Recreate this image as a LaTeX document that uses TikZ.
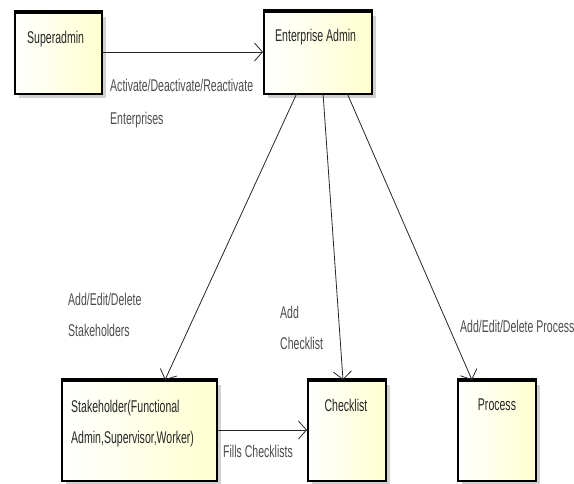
\documentclass[tikz,border=0pt]{standalone}
\usepackage{fontspec}
\setmainfont{Liberation Sans}[FakeStretch=0.62]
\usetikzlibrary{arrows.meta,shadows}
\definecolor{boxfill}{HTML}{FFFFD0}
\tikzset{
  box/.style={draw=black, line width=2pt, anchor=north west, inner sep=0pt,
    left color=white, right color=boxfill,
    drop shadow={shadow xshift=4pt, shadow yshift=-4pt, fill=black!30, opacity=0.6}},
  topbar/.style={line width=3.5pt, black},
  txt/.style={font=\fontsize{17}{19}\selectfont, text=black!85, inner sep=0pt, anchor=north west, align=left},
  conn/.style={draw=black!85, line width=0.8pt, -{Straight Barb[length=8pt,width=18pt,line width=0.8pt]}},
  lbl/.style={font=\fontsize{17}{19}\selectfont, text=black!70, inner sep=0pt, anchor=north west, align=left}
}
\begin{document}
\begin{tikzpicture}[x=1pt,y=-1pt]
\useasboundingbox (0,0) rectangle (574,483);
% boxes
\node[box, minimum width=87pt, minimum height=81pt] (sa) at (14,12) {};
\node[box, minimum width=108pt, minimum height=82pt] (ea) at (263,11) {};
\node[box, minimum width=155pt, minimum height=100pt] (sh) at (61,380) {};
\node[box, minimum width=78pt, minimum height=100pt] (cl) at (307,380) {};
\node[box, minimum width=78pt, minimum height=100pt] (pr) at (457,380) {};
\foreach \n in {sa,ea,sh,cl,pr}{\draw[topbar] (\n.north west) -- (\n.north east);}
% box texts
\node[txt] (tsa) at (27,31) {Superadmin};
\node[txt] (tea) at (275,29) {Enterprise Admin};
\node[txt, align=left] (tsh) at (71,400) {Stakeholder(Functional\\[12pt]Admin,Supervisor,Worker)};
\node[txt, anchor=north] (tcl) at (346,399) {Checklist};
\node[txt, anchor=north] (tpr) at (497,399) {Process};
% connectors
\coordinate (e1) at (297,93);
\coordinate (e2) at (323,93);
\coordinate (e3) at (347,93);
\coordinate (s1) at (165,380);
\coordinate (c1) at (343,380);
\coordinate (p1) at (472,380);
\draw[conn] (sa.east |- 0,52) -- (ea.west |- 0,52);
\draw[conn] (e1) -- (s1);
\draw[conn] (e2) -- (c1);
\draw[conn] (e3) -- (p1);
\draw[conn] (sh.east |- 0,430) -- (cl.west |- 0,430);
% labels
\node[lbl] (l1) at (110,79) {Activate/Deactivate/Reactivate\\[14pt]Enterprises};
\node[lbl] (l2) at (68,293) {Add/Edit/Delete\\[12pt]Stakeholders};
\node[lbl] (l3) at (280,306) {Add\\[12pt]Checklist};
\node[lbl] (l4) at (460,320) {Add/Edit/Delete Process};
\node[lbl] (l5) at (223,445) {Fills Checklists};
\end{tikzpicture}
\end{document}
